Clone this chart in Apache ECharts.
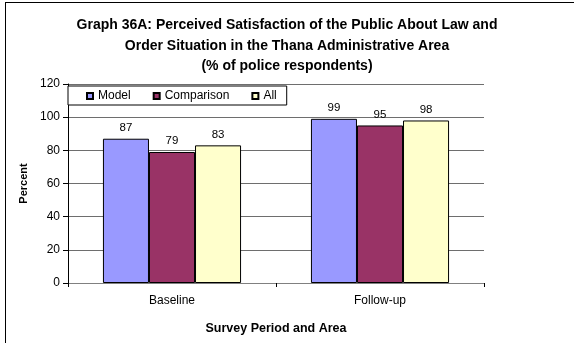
<!DOCTYPE html>
<html>
<head>
<meta charset="utf-8">
<script src="https://cdn.jsdelivr.net/npm/echarts@6/dist/echarts.min.js"></script>
<style>
  html, body { margin: 0; padding: 0; background: #fff; }
  #frame { position: absolute; left: 5px; top: 2px; width: 600px; height: 400px; border-left: 1px solid #000; border-top: 1px solid #000; }
  #chart { position: absolute; left: 0; top: 0; width: 574px; height: 343px; }
</style>
</head>
<body>
<div id="frame"></div>
<div id="chart"></div>
<script>
// Survey periods and respondent groups
const periods = ['Baseline', 'Follow-up'];
const modelValues = [87, 99];
const comparisonValues = [79, 95];
const allValues = [83, 98];
const yTicks = [0, 20, 40, 60, 80, 100, 120];

const font = 'Arial, "Liberation Sans", sans-serif';

const chart = echarts.init(document.getElementById('chart'), null, { renderer: 'canvas' });

function barSeries(name, data, color) {
  return {
    name: name,
    type: 'bar',
    data: data,
    barGap: '0%',
    barCategoryGap: '33.6%',
    itemStyle: { color: color, borderColor: '#000', borderWidth: 1 },
    label: {
      show: true,
      position: 'top',
      distance: 5,
      color: '#000',
      fontFamily: font,
      fontSize: 11.5
    }
  };
}

chart.setOption({
  animation: false,
  backgroundColor: 'transparent',
  title: {
    text: 'Graph 36A: Perceived Satisfaction of the Public About Law and\nOrder Situation in the Thana Administrative Area\n(% of police respondents)',
    left: 282,
    textAlign: 'center',
    top: 10,
    textStyle: { fontFamily: font, fontSize: 14, fontWeight: 'bold', color: '#000', lineHeight: 20.5 }
  },
  legend: {
    left: 68,
    top: 86,
    padding: [4, 10, 3, 18],
    itemGap: 22,
    orient: 'horizontal',
    icon: 'rect',
    itemWidth: 6,
    itemHeight: 6,
    backgroundColor: '#fff',
    borderColor: '#000',
    borderWidth: 1,
    textStyle: { fontFamily: font, fontSize: 12, color: '#000' },
    data: ['Model', 'Comparison', 'All']
  },
  grid: { left: 68, right: 90, top: 84, bottom: 60, containLabel: false },
  xAxis: {
    type: 'category',
    data: periods,
    name: 'Survey Period and Area',
    nameLocation: 'middle',
    nameGap: 39,
    nameTextStyle: { fontFamily: font, fontSize: 12.5, fontWeight: 'bold', color: '#000' },
    axisLine: { lineStyle: { color: '#808080', width: 1 } },
    axisTick: { show: true, alignWithLabel: false, length: 4, lineStyle: { color: '#000' } },
    axisLabel: { fontFamily: font, fontSize: 12, color: '#000', margin: 12 }
  },
  yAxis: {
    type: 'value',
    min: yTicks[0],
    max: yTicks[yTicks.length - 1],
    interval: 20,
    name: 'Percent',
    nameLocation: 'middle',
    nameGap: 38,
    nameTextStyle: { fontFamily: font, fontSize: 11, fontWeight: 'bold', color: '#000' },
    axisLine: { show: true, lineStyle: { color: '#000', width: 1 } },
    axisTick: { show: true, length: 5, lineStyle: { color: '#000' } },
    axisLabel: { fontFamily: font, fontSize: 12, color: '#000', margin: 8 },
    splitLine: { show: true, lineStyle: { color: '#6e6e6e', width: 1 } }
  },
  series: [
    barSeries('Model', modelValues, '#9999ff'),
    barSeries('Comparison', comparisonValues, '#993366'),
    barSeries('All', allValues, '#ffffcc')
  ]
});
</script>
</body>
</html>
